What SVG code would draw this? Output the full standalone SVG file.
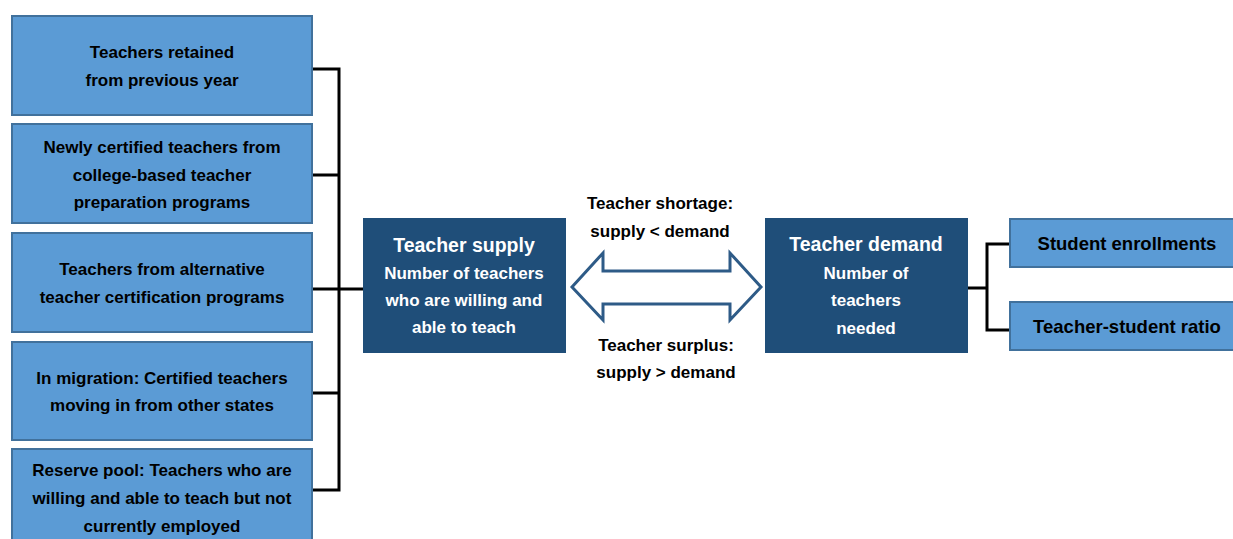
<svg xmlns="http://www.w3.org/2000/svg" width="1233" height="539" viewBox="0 0 1233 539">
<style>
.lb{fill:#5B9BD5;stroke:#41719C;stroke-width:2}
.db{fill:#1F4E79}
.t{font-family:"Liberation Sans",Arial,sans-serif;font-weight:bold;font-size:17px;fill:#000;text-anchor:middle}
.w{fill:#fff}
.h{font-size:19.5px}
.r{font-size:18.5px}
.c{fill:none;stroke:#000;stroke-width:3}
</style>
<rect width="1233" height="539" fill="#fff"/>
<g id="connectors">
<path class="c" d="M312 69H339M312 175H339M312 289H363M312 393H339M312 490H339M339 67.5V491.5"/>
<path class="c" d="M968 288H987M987 242.5V331.5M985.5 244H1010M985.5 330H1010"/>
<path id="double-arrow" d="M572 287L603 253V271H730V253L761 287L730 320V304H603V320Z" fill="#fff" stroke="#2E5B87" stroke-width="3" stroke-linejoin="miter"/>
</g>
<g id="n1"><rect class="lb" x="12" y="16" width="300" height="99"/>
<text class="t" x="162" y="58">Teachers retained</text><text class="t" x="162" y="86">from previous year</text></g>
<g id="n2"><rect class="lb" x="12" y="124" width="300" height="99"/>
<text class="t" x="162" y="153">Newly certified teachers from</text><text class="t" x="162" y="181">college-based teacher</text><text class="t" x="162" y="208">preparation programs</text></g>
<g id="n3"><rect class="lb" x="12" y="233" width="300" height="99"/>
<text class="t" x="162" y="275">Teachers from alternative</text><text class="t" x="162" y="303">teacher certification programs</text></g>
<g id="n4"><rect class="lb" x="12" y="342" width="300" height="98"/>
<text class="t" x="162" y="384">In migration: Certified teachers</text><text class="t" x="162" y="411">moving in from other states</text></g>
<g id="n5"><rect class="lb" x="12" y="449" width="300" height="100"/>
<text class="t" x="162" y="476">Reserve pool: Teachers who are</text><text class="t" x="162" y="504">willing and able to teach but not</text><text class="t" x="162" y="532">currently employed</text></g>
<g id="supply"><rect class="db" x="363" y="218" width="203" height="135"/>
<text class="t w h" x="464" y="252">Teacher supply</text>
<text class="t w" x="464" y="279">Number of teachers</text><text class="t w" x="464" y="306">who are willing and</text><text class="t w" x="464" y="333">able to teach</text></g>
<g id="labels">
<text class="t" x="660" y="209">Teacher shortage:</text><text class="t" x="660" y="237">supply &lt; demand</text>
<text class="t" x="666" y="351">Teacher surplus:</text><text class="t" x="666" y="378">supply &gt; demand</text></g>
<g id="demand"><rect class="db" x="765" y="218" width="203" height="135"/>
<text class="t w h" x="866" y="251">Teacher demand</text>
<text class="t w" x="866" y="279">Number of</text><text class="t w" x="866" y="306">teachers</text><text class="t w" x="866" y="334">needed</text></g>
<g id="r1"><rect class="lb" x="1010" y="219" width="230" height="48"/>
<text class="t r" x="1127" y="250">Student enrollments</text></g>
<g id="r2"><rect class="lb" x="1010" y="302" width="230" height="48"/>
<text class="t r" x="1127" y="333">Teacher-student ratio</text></g>
</svg>
